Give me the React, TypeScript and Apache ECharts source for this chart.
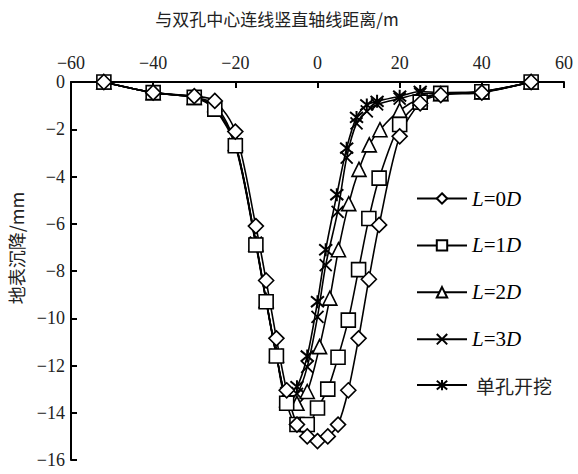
import React, { useEffect, useRef } from "react";
import * as echarts from "echarts";

// distance from vertical axis (m) and surface settlement (mm)
const xL0 = [-52, -40, -30, -25, -20, -15, -12.5, -10, -7.5, -5, -2.5, 0, 2.5, 5, 7.5, 10, 12.5, 15, 20, 25, 30, 40, 52];
const yL0 = [0, -0.45, -0.6, -0.8, -2.1, -6.1, -8.4, -10.85, -13.05, -14.5, -15.0, -15.2, -15.0, -14.5, -13.05, -10.85, -8.35, -6.05, -2.3, -0.9, -0.55, -0.45, 0];

const xL1 = [-52, -40, -30, -25, -20, -15, -12.5, -10, -7.5, -5, -2.5, 0, 2.5, 5, 7.5, 10, 12.5, 15, 20, 25, 30, 40, 52];
const yL1 = [0, -0.45, -0.65, -1.15, -2.7, -6.9, -9.3, -11.6, -13.6, -14.5, -14.5, -13.8, -13.0, -11.65, -10.08, -7.94, -5.78, -4.07, -1.8, -0.85, -0.48, -0.41, 0];

const xL2 = [-52, -40, -30, -25, -20, -15, -12.5, -10, -7.5, -5, -2.5, 0.5, 3, 5.1, 7.6, 10.1, 12.6, 15.2, 20, 25, 30, 40, 52];
const yL2 = [0, -0.45, -0.65, -0.95, -2.6, -6.85, -9.25, -11.55, -13.45, -13.6, -13.1, -11.2, -9.15, -7.1, -5.15, -3.7, -2.66, -2.02, -1.2, -0.7, -0.5, -0.42, 0];

const xL3 = [-52, -40, -30, -25, -20, -15, -12.5, -10, -7.5, -5, -2.5, 0, 2, 4.9, 7.1, 9.5, 12, 14.5, 20, 25, 30, 40, 52];
const yL3 = [0, -0.45, -0.65, -1.1, -2.65, -6.8, -9.25, -11.55, -13.3, -13.2, -12.06, -9.94, -7.75, -5.5, -3.2, -1.75, -1.24, -0.95, -0.7, -0.5, -0.47, -0.42, 0];

const xS = [-52, -40, -30, -25, -20, -15, -12.5, -10, -7.5, -5, -2.5, 0, 2, 4.7, 7.1, 9.5, 12, 14.5, 20, 25, 30, 40, 52];
const yS = [0, -0.45, -0.65, -1.1, -2.6, -6.8, -9.25, -11.55, -13.15, -12.9, -11.6, -9.3, -7.1, -4.77, -2.8, -1.5, -0.97, -0.82, -0.6, -0.4, -0.45, -0.4, 0];

const seriesNames = ["L=0D", "L=1D", "L=2D", "L=3D", "单孔开挖"];
const xTicks = { min: -60, max: 60, interval: 20 };
const yTicks = { min: -16, max: 0, interval: 2 };

const zip = (xs: number[], ys: number[]) => xs.map((x, i) => [x, ys[i]]);

const SYM_X = "path://M0,0L10,10M10,0L0,10";
const SYM_AST = "path://M0,0L10,10M10,0L0,10M5,-1L5,11";

export default function App() {
  const ref = useRef<HTMLDivElement>(null);
  useEffect(() => {
    if (!ref.current) return;
    const chart = echarts.init(ref.current, null, { renderer: "svg" });
    const serif = "Liberation Serif";
    const cjk = "Noto Sans CJK SC";
    const mkSeries = (name: string, data: number[][], symbol: string, size: number, bw = 1.6) => ({
      name,
      type: "line",
      data,
      smooth: 0.3,
      symbol,
      symbolSize: size,
      showSymbol: true,
      lineStyle: { color: "#000", width: 1.6 },
      itemStyle: { color: "#fff", borderColor: "#000", borderWidth: bw },
      emphasis: { disabled: true },
    });
    const fmt = (v: number) => String(v).replace("-", "\u2212");
    chart.setOption({
      animation: false,
      backgroundColor: "#fff",
      grid: { left: 71, right: 14, top: 82, bottom: 14, containLabel: false },
      graphic: [
        {
          type: "text",
          x: 277,
          y: 18,
          style: {
            text: "与双孔中心连线竖直轴线距离/m",
            font: `17px "${cjk}"`,
            fill: "#222",
            textAlign: "center",
            textVerticalAlign: "middle",
          },
        },
        {
          type: "text",
          x: 16,
          y: 248,
          rotation: Math.PI / 2,
          style: {
            text: "地表沉降/mm",
            font: `18px "${cjk}"`,
            fill: "#222",
            textAlign: "center",
            textVerticalAlign: "middle",
          },
        },
      ],
      legend: {
        orient: "vertical",
        left: 411,
        top: 183,
        itemWidth: 50,
        itemHeight: 13,
        itemGap: 25.9,
        data: seriesNames,
        textStyle: {
          color: "#000",
          rich: {
            i: { fontFamily: serif, fontStyle: "italic", fontSize: 21, color: "#000" },
            n: { fontFamily: serif, fontSize: 21, color: "#000" },
            c: { fontFamily: cjk, fontSize: 19, color: "#222", padding: [0, 0, 0, 4] },
          },
        },
        formatter: (name: string) =>
          name === "单孔开挖" ? `{c|${name}}` : `{i|L}{n|=${name.slice(2, 3)}}{i|D}`,
      },
      xAxis: {
        type: "value",
        position: "top",
        min: xTicks.min,
        max: xTicks.max,
        interval: xTicks.interval,
        axisLine: { show: true, onZero: false, lineStyle: { color: "#000", width: 2 } },
        axisTick: { show: true, inside: true, length: 6, lineStyle: { color: "#000", width: 2 } },
        axisLabel: { margin: 10, fontFamily: serif, fontSize: 18, color: "#222", formatter: fmt },
        splitLine: { show: false },
      },
      yAxis: {
        type: "value",
        min: yTicks.min,
        max: yTicks.max,
        interval: yTicks.interval,
        axisLine: { show: true, onZero: false, lineStyle: { color: "#000", width: 2 } },
        axisTick: { show: true, inside: true, length: 6, lineStyle: { color: "#000", width: 2 } },
        axisLabel: { margin: 6, fontFamily: serif, fontSize: 18, color: "#222", formatter: fmt },
        splitLine: { show: false },
      },
      series: [
        mkSeries("单孔开挖", zip(xS, yS), SYM_AST, 13, 2),
        mkSeries("L=3D", zip(xL3, yL3), SYM_X, 12, 1.8),
        mkSeries("L=2D", zip(xL2, yL2), "triangle", 14),
        mkSeries("L=1D", zip(xL1, yL1), "rect", 14),
        mkSeries("L=0D", zip(xL0, yL0), "diamond", 15),
      ],
    });
    return () => chart.dispose();
  }, []);
  return (
    <div
      ref={ref}
      style={{ position: "fixed", left: 0, top: 0, width: 578, height: 474, background: "#fff" }}
    />
  );
}
